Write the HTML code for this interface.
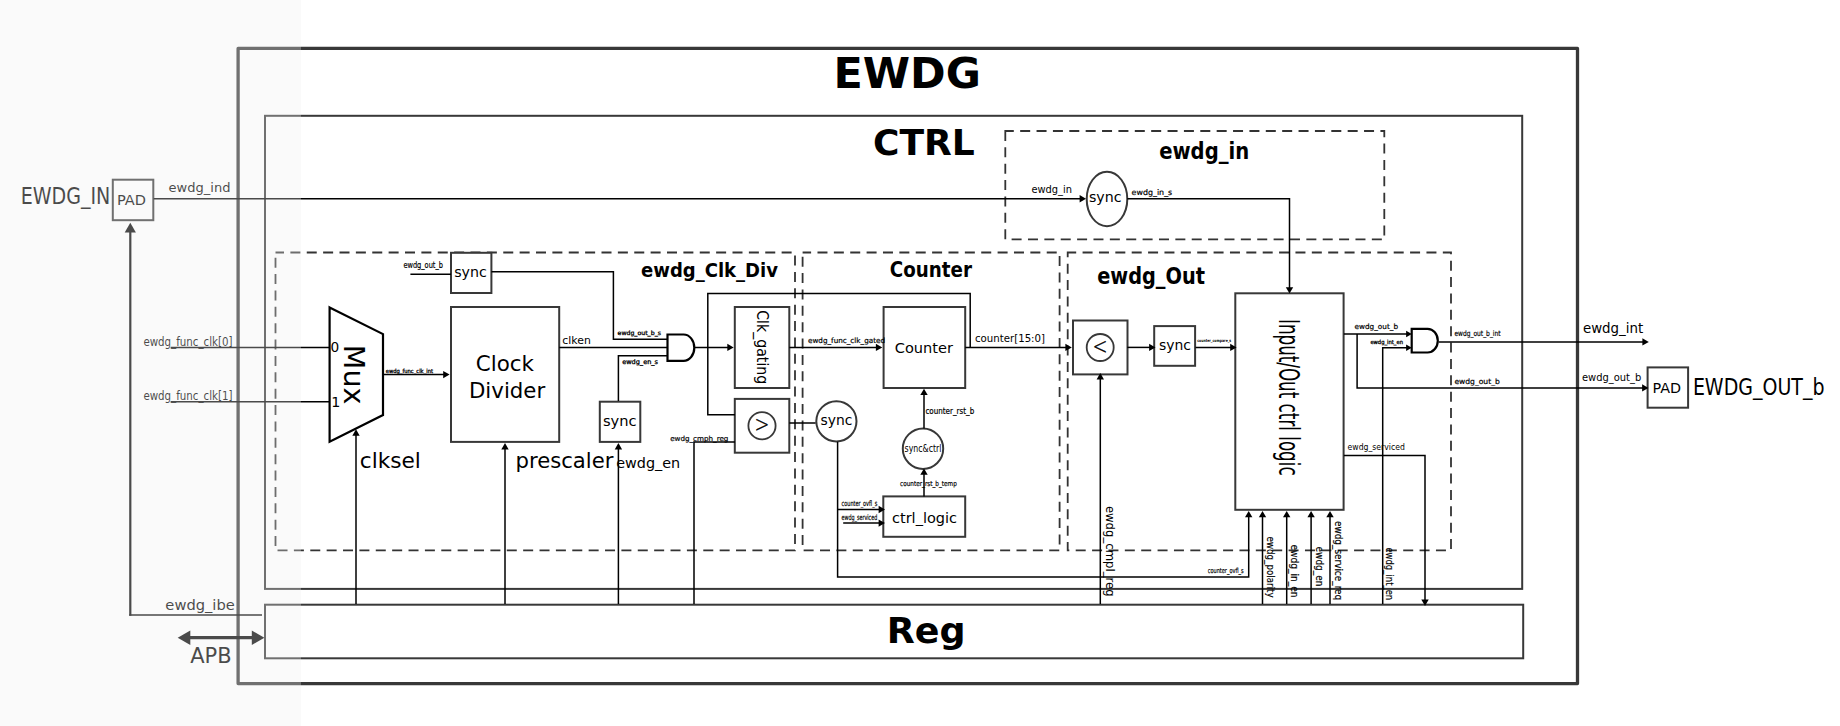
<!DOCTYPE html>
<html lang="en">
<head>
<meta charset="utf-8">
<title>EWDG block diagram</title>
<style>
html,body{margin:0;padding:0;background:#fff;}
body{width:1840px;height:726px;overflow:hidden;position:relative;}
svg{display:block;position:absolute;left:0;top:0;}
svg text{font-family:"DejaVu Sans","Liberation Sans",sans-serif;}
#shade{position:absolute;left:0;top:0;width:301px;height:726px;background:rgba(239,239,239,0.31);}
</style>
</head>
<body>
<svg width="1840" height="726" viewBox="0 0 1840 726">

<g id="shapes">
<rect x="238.1" y="48.4" width="1339.4" height="635.2" stroke="#383838" stroke-width="3.3" fill="none" stroke-linejoin="round"/>
<rect x="265" y="115.8" width="1257.2" height="473.1" stroke="#383838" stroke-width="2" fill="none"/>
<rect x="265" y="604.7" width="1258.2" height="53.6" stroke="#383838" stroke-width="2" fill="none"/>
<rect x="1005.3" y="131" width="379" height="108.3" stroke="#333" stroke-width="1.8" fill="none" stroke-dasharray="10 6.375" stroke-dashoffset="1.5"/>
<rect x="275.5" y="252.5" width="519.5" height="297.9" stroke="#333" stroke-width="1.8" fill="none" stroke-dasharray="10 6.375" stroke-dashoffset="1.5"/>
<rect x="802.6" y="252.5" width="257" height="297.9" stroke="#333" stroke-width="1.8" fill="none" stroke-dasharray="10 6.375" stroke-dashoffset="1.5"/>
<rect x="1067.7" y="252.5" width="383.3" height="297.9" stroke="#333" stroke-width="1.8" fill="none" stroke-dasharray="10 6.375" stroke-dashoffset="1.5"/>
<rect x="112.8" y="179.7" width="40.5" height="40.5" stroke="#383838" stroke-width="2" fill="#fff"/>
<ellipse cx="1107" cy="199" rx="20.3" ry="27.2" stroke="#383838" stroke-width="2" fill="#fff"/>
<rect x="451" y="252.8" width="40.4" height="40.2" stroke="#383838" stroke-width="2" fill="#fff"/>
<polygon points="329.6,307.4 383,334.1 383,415 329.6,441.8" stroke="#000" stroke-width="2.2" fill="#fff" stroke-linejoin="miter"/>
<rect x="451" y="307" width="108.2" height="134.9" stroke="#383838" stroke-width="2" fill="#fff"/>
<rect x="599.8" y="401.7" width="40.5" height="40.2" stroke="#383838" stroke-width="2" fill="#fff"/>
<path d="M667.5 334.5 L683.6 334.5 A10.7 13.15 0 0 1 683.6 360.8 L667.5 360.8 Z" stroke="#000" stroke-width="2.2" fill="#fff"/>
<rect x="734.8" y="307" width="54.5" height="81" stroke="#383838" stroke-width="2" fill="#fff"/>
<rect x="734.8" y="398.9" width="54.5" height="53.8" stroke="#383838" stroke-width="2" fill="#fff"/>
<circle cx="762" cy="425.8" r="13.6" stroke="#383838" stroke-width="1.8" fill="#fff"/>
<rect x="883.6" y="307" width="81.6" height="81" stroke="#383838" stroke-width="2" fill="#fff"/>
<circle cx="836.4" cy="421.3" r="20.1" stroke="#383838" stroke-width="2" fill="#fff"/>
<rect x="883.3" y="496.4" width="81.9" height="40.4" stroke="#383838" stroke-width="2" fill="#fff"/>
<circle cx="923" cy="448.7" r="20.2" stroke="#383838" stroke-width="2" fill="#fff"/>
<rect x="1073" y="320.5" width="54.5" height="53.9" stroke="#383838" stroke-width="2" fill="#fff"/>
<circle cx="1100.2" cy="347.5" r="13.5" stroke="#383838" stroke-width="1.8" fill="#fff"/>
<rect x="1154.2" y="326.1" width="40.9" height="39.7" stroke="#383838" stroke-width="2" fill="#fff"/>
<rect x="1235.3" y="293.3" width="108.3" height="216.5" stroke="#383838" stroke-width="2" fill="#fff"/>
<path d="M1411.7 328.8 L1427.6 328.8 A10.2 11.85 0 0 1 1427.6 352.5 L1411.7 352.5 Z" stroke="#000" stroke-width="2.2" fill="#fff"/>
<rect x="1647.6" y="367.4" width="40.5" height="40.3" stroke="#383838" stroke-width="2" fill="#fff"/>
</g>
<g id="lines">
<path d="M153.6 198.8 L1080.6 198.8" stroke="#000" stroke-width="1.5" fill="none"/>
<polygon points="1086,198.8 1079.6,195.1 1079.6,202.5" fill="#000"/>
<path d="M130.3 230 L130.3 615.8" stroke="#000" stroke-width="2.2" fill="none"/>
<path d="M129.2 615.1 L262 615.1" stroke="#000" stroke-width="1.5" fill="none"/>
<polygon points="130.3,222.7 124.7,232.5 135.9,232.5" fill="#000"/>
<path d="M188 637.7 L254 637.7" stroke="#000" stroke-width="3.2" fill="none"/>
<polygon points="177.7,637.7 190.3,630.5 190.3,644.9" fill="#000"/>
<polygon points="264.4,637.7 251.8,630.5 251.8,644.9" fill="#000"/>
<path d="M170.6 347.4 L329 347.4" stroke="#000" stroke-width="1.5" fill="none"/>
<path d="M170.6 401.7 L329 401.7" stroke="#000" stroke-width="1.5" fill="none"/>
<path d="M1127.3 198.8 L1289.5 198.8 L1289.5 288.2" stroke="#000" stroke-width="1.5" fill="none"/>
<polygon points="1289.5,293.6 1285.8,287.2 1293.2,287.2" fill="#000"/>
<path d="M410.4 274.3 L451 274.3" stroke="#000" stroke-width="1.5" fill="none"/>
<path d="M491.4 271.8 L613.4 271.8 L613.4 339.3 L667.3 339.3" stroke="#000" stroke-width="1.5" fill="none"/>
<path d="M383 374.6 L444.2 374.6" stroke="#000" stroke-width="1.5" fill="none"/>
<polygon points="449.6,374.6 443.2,370.9 443.2,378.3" fill="#000"/>
<path d="M559.2 347.4 L667.3 347.4" stroke="#000" stroke-width="1.5" fill="none"/>
<path d="M618.4 401 L618.4 355.8 L667.3 355.8" stroke="#000" stroke-width="1.5" fill="none"/>
<path d="M694.3 347.4 L728.3 347.4" stroke="#000" stroke-width="1.5" fill="none"/>
<polygon points="733.7,347.4 727.3,343.7 727.3,351.1" fill="#000"/>
<path d="M735 414.7 L707.8 414.7 L707.8 293.4 L970.2 293.4 L970.2 347.4" stroke="#000" stroke-width="1.5" fill="none"/>
<path d="M356 604 L356 434.7" stroke="#000" stroke-width="1.5" fill="none"/>
<polygon points="356,429.3 352.3,435.7 359.7,435.7" fill="#000"/>
<path d="M505 604 L505 448.5" stroke="#000" stroke-width="1.5" fill="none"/>
<polygon points="505,443.1 501.3,449.5 508.7,449.5" fill="#000"/>
<path d="M618.4 604 L618.4 448.5" stroke="#000" stroke-width="1.5" fill="none"/>
<polygon points="618.4,443.1 614.7,449.5 622.1,449.5" fill="#000"/>
<path d="M694 604 L694 442.1 L735 442.1" stroke="#000" stroke-width="1.5" fill="none"/>
<path d="M789.3 347.4 L876.9 347.4" stroke="#000" stroke-width="1.5" fill="none"/>
<polygon points="882.3,347.4 875.9,343.7 875.9,351.1" fill="#000"/>
<path d="M965.2 347.4 L1066.4 347.4" stroke="#000" stroke-width="1.5" fill="none"/>
<polygon points="1071.8,347.4 1065.4,343.7 1065.4,351.1" fill="#000"/>
<path d="M789.3 423 L815.6 423" stroke="#000" stroke-width="1.5" fill="none"/>
<path d="M837.6 441.8 L837.6 577 L1248.7 577 L1248.7 516.3" stroke="#000" stroke-width="1.5" fill="none"/>
<polygon points="1248.7,510.9 1245,517.3 1252.4,517.3" fill="#000"/>
<path d="M837.6 509.5 L879.6 509.5" stroke="#000" stroke-width="1.5" fill="none"/>
<polygon points="885,509.5 878.6,505.8 878.6,513.2" fill="#000"/>
<path d="M843.2 523 L879.6 523.1" stroke="#000" stroke-width="1.5" fill="none"/>
<polygon points="885,523.1 878.6,519.4 878.6,526.8" fill="#000"/>
<path d="M924 496.4 L924 473.8" stroke="#000" stroke-width="1.5" fill="none"/>
<polygon points="924,468.4 920.3,474.8 927.7,474.8" fill="#000"/>
<path d="M924 428.4 L924 394.1" stroke="#000" stroke-width="1.5" fill="none"/>
<polygon points="924,388.7 920.3,395.1 927.7,395.1" fill="#000"/>
<path d="M1127.3 347.4 L1150.1 347.4" stroke="#000" stroke-width="1.5" fill="none"/>
<polygon points="1155.5,347.4 1149.1,343.7 1149.1,351.1" fill="#000"/>
<path d="M1195.5 347.4 L1231.2 347.4" stroke="#000" stroke-width="1.5" fill="none"/>
<polygon points="1236.6,347.4 1230.2,343.7 1230.2,351.1" fill="#000"/>
<path d="M1100.3 604 L1100.3 378.4" stroke="#000" stroke-width="1.5" fill="none"/>
<polygon points="1100.3,373 1096.6,379.4 1104,379.4" fill="#000"/>
<path d="M1262.5 604 L1262.5 516.3" stroke="#000" stroke-width="1.5" fill="none"/>
<polygon points="1262.5,510.9 1258.8,517.3 1266.2,517.3" fill="#000"/>
<path d="M1286.7 604 L1286.7 516.3" stroke="#000" stroke-width="1.5" fill="none"/>
<polygon points="1286.7,510.9 1283,517.3 1290.4,517.3" fill="#000"/>
<path d="M1311.1 604 L1311.1 516.3" stroke="#000" stroke-width="1.5" fill="none"/>
<polygon points="1311.1,510.9 1307.4,517.3 1314.8,517.3" fill="#000"/>
<path d="M1330 604 L1330 516.3" stroke="#000" stroke-width="1.5" fill="none"/>
<polygon points="1330,510.9 1326.3,517.3 1333.7,517.3" fill="#000"/>
<path d="M1343.9 334 L1407.1 334" stroke="#000" stroke-width="1.5" fill="none"/>
<polygon points="1411.8,334 1406.1,330.7 1406.1,337.3" fill="#000"/>
<path d="M1357.1 334 L1357.1 387.9 L1643.1 387.9" stroke="#000" stroke-width="1.5" fill="none"/>
<polygon points="1648.5,387.9 1642.1,384.2 1642.1,391.6" fill="#000"/>
<path d="M1382.7 604 L1382.7 347.8 L1407.1 347.8" stroke="#000" stroke-width="1.5" fill="none"/>
<polygon points="1411.8,347.8 1406.1,344.5 1406.1,351.1" fill="#000"/>
<path d="M1438.8 341.9 L1643 341.9" stroke="#000" stroke-width="1.5" fill="none"/>
<polygon points="1648.8,341.9 1642.4,338.2 1642.4,345.6" fill="#000"/>
<path d="M1343.9 455.6 L1425 455.6 L1425 600.5" stroke="#000" stroke-width="1.5" fill="none"/>
<polygon points="1425,605.9 1421.3,599.5 1428.7,599.5" fill="#000"/>
</g>
<g id="texts">
<text x="833.42" y="88.45" font-size="42" font-weight="bold" textLength="147.53" lengthAdjust="spacingAndGlyphs" fill="#000">EWDG</text>
<text x="873.00" y="155.30" font-size="35.3" font-weight="bold" textLength="101.82" lengthAdjust="spacingAndGlyphs" fill="#000">CTRL</text>
<text x="886.82" y="642.50" font-size="35.8" font-weight="bold" textLength="78.84" lengthAdjust="spacingAndGlyphs" fill="#000">Reg</text>
<text x="1159.20" y="159.30" font-size="23.1" font-weight="bold" textLength="90.03" lengthAdjust="spacingAndGlyphs" fill="#000">ewdg_in</text>
<text x="641.00" y="277.00" font-size="20" font-weight="bold" textLength="137.00" lengthAdjust="spacingAndGlyphs" fill="#000">ewdg_Clk_Div</text>
<text x="889.79" y="277.00" font-size="21.6" font-weight="bold" textLength="82.20" lengthAdjust="spacingAndGlyphs" fill="#000">Counter</text>
<text x="1097.20" y="284.00" font-size="23.1" font-weight="bold" textLength="107.80" lengthAdjust="spacingAndGlyphs" fill="#000">ewdg_Out</text>
<text x="20.67" y="203.70" font-size="22.9" textLength="89.64" lengthAdjust="spacingAndGlyphs" fill="#000">EWDG_IN</text>
<text x="116.98" y="204.60" font-size="13.6" textLength="29.04" lengthAdjust="spacingAndGlyphs" fill="#000">PAD</text>
<text x="168.59" y="191.60" font-size="12.9" textLength="61.82" lengthAdjust="spacingAndGlyphs" fill="#000">ewdg_ind</text>
<text x="165.39" y="610.20" font-size="14.5" textLength="69.41" lengthAdjust="spacingAndGlyphs" fill="#000">ewdg_ibe</text>
<text x="190.19" y="662.80" font-size="20.7" textLength="41.42" lengthAdjust="spacingAndGlyphs" fill="#000">APB</text>
<text x="143.40" y="345.90" font-size="12.2" textLength="89.20" lengthAdjust="spacingAndGlyphs" fill="#000">ewdg_func_clk[0]</text>
<text x="143.40" y="400.20" font-size="12.2" textLength="89.20" lengthAdjust="spacingAndGlyphs" fill="#000">ewdg_func_clk[1]</text>
<text x="1031.38" y="192.90" font-size="9.9" textLength="40.62" lengthAdjust="spacingAndGlyphs" fill="#000">ewdg_in</text>
<text x="1088.98" y="202.00" font-size="14.2" textLength="32.63" lengthAdjust="spacingAndGlyphs" fill="#000">sync</text>
<text x="1131.60" y="195.20" font-size="7.8" textLength="40.62" lengthAdjust="spacingAndGlyphs" fill="#000" stroke="#000" stroke-width="0.2">ewdg_in_s</text>
<text x="403.39" y="268.00" font-size="9" textLength="39.62" lengthAdjust="spacingAndGlyphs" fill="#000" stroke="#000" stroke-width="0.2">ewdg_out_b</text>
<text x="454.19" y="277.00" font-size="14.2" textLength="32.61" lengthAdjust="spacingAndGlyphs" fill="#000">sync</text>
<text x="330.60" y="352.40" font-size="13.7" fill="#000">0</text>
<text x="331.30" y="406.80" font-size="14.3" fill="#000">1</text>
<text transform="translate(344.00 344.85) rotate(90)" font-size="29.2" textLength="59.61" lengthAdjust="spacingAndGlyphs" fill="#000">Mux</text>
<text x="385.78" y="372.80" font-size="5.6" textLength="47.25" lengthAdjust="spacingAndGlyphs" fill="#000" stroke="#000" stroke-width="0.3">ewdg_func_clk_int</text>
<text x="475.80" y="371.10" font-size="21.3" textLength="58.20" lengthAdjust="spacingAndGlyphs" fill="#000">Clock</text>
<text x="468.98" y="398.10" font-size="21.3" textLength="76.22" lengthAdjust="spacingAndGlyphs" fill="#000">Divider</text>
<text x="562.39" y="344.00" font-size="10.2" textLength="28.45" lengthAdjust="spacingAndGlyphs" fill="#000">clken</text>
<text x="617.60" y="335.20" font-size="6" textLength="43.40" lengthAdjust="spacingAndGlyphs" fill="#000" stroke="#000" stroke-width="0.3">ewdg_out_b_s</text>
<text x="622.18" y="363.60" font-size="6.4" textLength="35.85" lengthAdjust="spacingAndGlyphs" fill="#000" stroke="#000" stroke-width="0.3">ewdg_en_s</text>
<text x="602.97" y="425.50" font-size="14.2" textLength="33.64" lengthAdjust="spacingAndGlyphs" fill="#000">sync</text>
<text transform="translate(757.20 310.19) rotate(90)" font-size="15.8" textLength="74.04" lengthAdjust="spacingAndGlyphs" fill="#000">Clk_gating</text>
<text x="754.40" y="432.30" font-size="22.6" font-weight="200" textLength="14.90" lengthAdjust="spacingAndGlyphs" fill="#000" stroke="#000" stroke-width="0.3">&gt;</text>
<text x="359.77" y="467.70" font-size="21" textLength="61.09" lengthAdjust="spacingAndGlyphs" fill="#000">clksel</text>
<text x="515.58" y="467.70" font-size="21" textLength="97.82" lengthAdjust="spacingAndGlyphs" fill="#000">prescaler</text>
<text x="616.20" y="468.20" font-size="14.2" textLength="64.02" lengthAdjust="spacingAndGlyphs" fill="#000">ewdg_en</text>
<text x="670.19" y="440.90" font-size="7" textLength="58.21" lengthAdjust="spacingAndGlyphs" fill="#000" stroke="#000" stroke-width="0.2">ewdg_cmph_reg</text>
<text x="808.00" y="342.80" font-size="7.3" textLength="77.00" lengthAdjust="spacingAndGlyphs" fill="#000" stroke="#000" stroke-width="0.2">ewdg_func_clk_gated</text>
<text x="894.78" y="352.80" font-size="14.4" textLength="58.24" lengthAdjust="spacingAndGlyphs" fill="#000">Counter</text>
<text x="975.00" y="342.30" font-size="10.2" textLength="70.00" lengthAdjust="spacingAndGlyphs" fill="#000">counter[15:0]</text>
<text x="820.58" y="425.00" font-size="14.2" textLength="31.85" lengthAdjust="spacingAndGlyphs" fill="#000">sync</text>
<text x="841.60" y="505.80" font-size="7.5" textLength="35.63" lengthAdjust="spacingAndGlyphs" fill="#000" stroke="#000" stroke-width="0.2">counter_ovfl_s</text>
<text x="841.60" y="519.50" font-size="7.5" textLength="35.62" lengthAdjust="spacingAndGlyphs" fill="#000" stroke="#000" stroke-width="0.2">ewdg_serviced</text>
<text x="891.97" y="522.80" font-size="14.3" textLength="65.06" lengthAdjust="spacingAndGlyphs" fill="#000">ctrl_logic</text>
<text x="904.57" y="451.90" font-size="9.6" textLength="36.86" lengthAdjust="spacingAndGlyphs" fill="#000">sync&amp;ctrl</text>
<text x="925.40" y="414.20" font-size="8" textLength="48.80" lengthAdjust="spacingAndGlyphs" fill="#000" stroke="#000" stroke-width="0.2">counter_rst_b</text>
<text x="900.00" y="485.70" font-size="7" textLength="56.81" lengthAdjust="spacingAndGlyphs" fill="#000" stroke="#000" stroke-width="0.2">counter_rst_b_temp</text>
<text x="1092.60" y="354.20" font-size="22.6" font-weight="200" textLength="15.10" lengthAdjust="spacingAndGlyphs" fill="#000" stroke="#000" stroke-width="0.3">&lt;</text>
<text x="1159.00" y="349.50" font-size="14.2" textLength="32.03" lengthAdjust="spacingAndGlyphs" fill="#000">sync</text>
<text x="1197.18" y="341.50" font-size="4.2" font-weight="bold" textLength="34.06" lengthAdjust="spacingAndGlyphs" fill="#000">counter_compare_s</text>
<text transform="translate(1279.00 318.96) rotate(90)" font-size="29" textLength="156.65" lengthAdjust="spacingAndGlyphs" fill="#000">Input/Out ctrl logic</text>
<text transform="translate(1106.40 505.88) rotate(90)" font-size="12.3" textLength="90.82" lengthAdjust="spacingAndGlyphs" fill="#000">ewdg_cmpl_reg</text>
<text x="1207.79" y="573.10" font-size="7" textLength="35.82" lengthAdjust="spacingAndGlyphs" fill="#000" stroke="#000" stroke-width="0.2">counter_ovfl_s</text>
<text transform="translate(1267.30 536.58) rotate(90)" font-size="10" textLength="61.04" lengthAdjust="spacingAndGlyphs" fill="#000" stroke="#000" stroke-width="0.15">ewdg_polarity</text>
<text transform="translate(1291.20 544.40) rotate(90)" font-size="10" textLength="53.20" lengthAdjust="spacingAndGlyphs" fill="#000" stroke="#000" stroke-width="0.15">ewdg_in_en</text>
<text transform="translate(1316.20 546.57) rotate(90)" font-size="10" textLength="39.87" lengthAdjust="spacingAndGlyphs" fill="#000" stroke="#000" stroke-width="0.15">ewdg_en</text>
<text transform="translate(1335.00 521.00) rotate(90)" font-size="10" textLength="79.20" lengthAdjust="spacingAndGlyphs" fill="#000" stroke="#000" stroke-width="0.15">ewdg_service_req</text>
<text transform="translate(1385.90 547.41) rotate(90)" font-size="10" textLength="52.81" lengthAdjust="spacingAndGlyphs" fill="#000" stroke="#000" stroke-width="0.15">ewdg_int_en</text>
<text x="1354.59" y="329.00" font-size="7.3" textLength="43.43" lengthAdjust="spacingAndGlyphs" fill="#000" stroke="#000" stroke-width="0.2">ewdg_out_b</text>
<text x="1370.38" y="343.50" font-size="5.6" textLength="32.62" lengthAdjust="spacingAndGlyphs" fill="#000" stroke="#000" stroke-width="0.3">ewdg_int_en</text>
<text x="1454.38" y="335.70" font-size="7.6" textLength="46.24" lengthAdjust="spacingAndGlyphs" fill="#000" stroke="#000" stroke-width="0.2">ewdg_out_b_int</text>
<text x="1582.97" y="332.70" font-size="13.4" textLength="60.23" lengthAdjust="spacingAndGlyphs" fill="#000">ewdg_int</text>
<text x="1454.40" y="384.10" font-size="7.4" textLength="45.41" lengthAdjust="spacingAndGlyphs" fill="#000" stroke="#000" stroke-width="0.2">ewdg_out_b</text>
<text x="1581.98" y="381.30" font-size="9.9" textLength="59.22" lengthAdjust="spacingAndGlyphs" fill="#000">ewdg_out_b</text>
<text x="1652.48" y="392.90" font-size="13.5" textLength="28.64" lengthAdjust="spacingAndGlyphs" fill="#000">PAD</text>
<text x="1692.88" y="394.60" font-size="22.3" textLength="131.62" lengthAdjust="spacingAndGlyphs" fill="#000">EWDG_OUT_b</text>
<text x="1347.60" y="449.60" font-size="9.5" textLength="57.20" lengthAdjust="spacingAndGlyphs" fill="#000">ewdg_serviced</text>
</g>
</svg>
<div id="shade"></div>
</body>
</html>
